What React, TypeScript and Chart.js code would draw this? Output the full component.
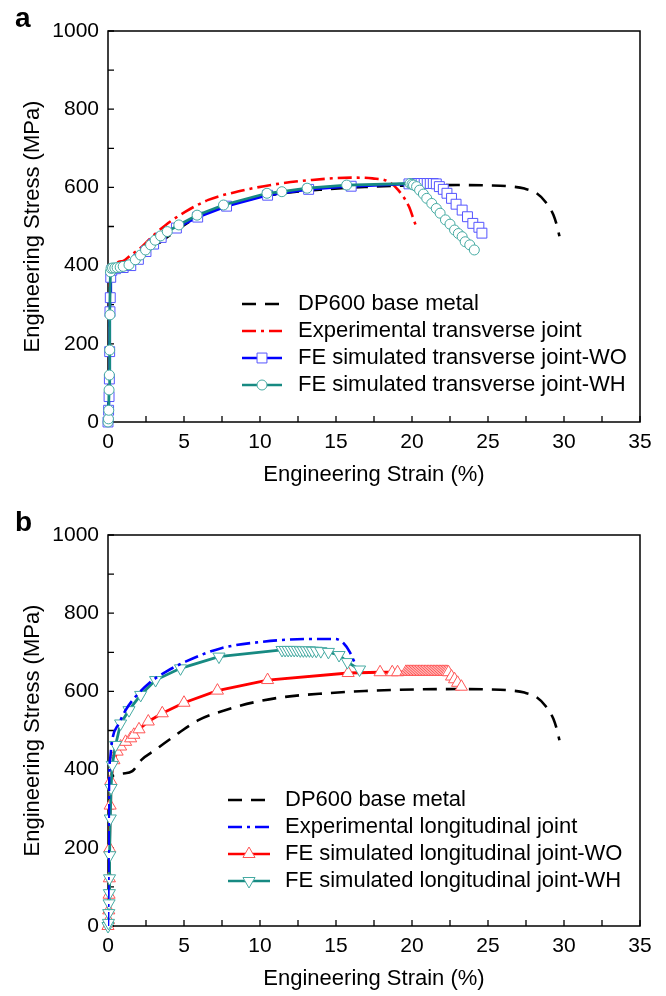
import React, { useEffect, useRef } from "react";
import { Chart, registerables } from "chart.js";

Chart.register(...registerables);

const FONT = "'Liberation Sans', Arial, Helvetica, sans-serif";

// ---- axis tick marks ----
const xTickMarks = [0, 2.5, 5, 7.5, 10, 12.5, 15, 17.5, 20, 22.5, 25, 27.5, 30, 32.5, 35];
const yTickMarks = [0, 100, 200, 300, 400, 500, 600, 700, 800, 900, 1000];

// ---- DP600 base metal (both panels) ----
const baseStrain = [0, 0.03, 0.06, 0.1, 0.15, 0.25, 0.4, 1.0, 1.6, 2.2, 3.1, 4.66, 5.98, 7.7, 9.7, 11.67, 14.3, 16.9, 20.2, 23.0, 25.0, 26.3, 27.4, 28.2, 28.8, 29.3, 29.55, 29.7];
const baseStress = [0, 90, 190, 290, 350, 378, 386, 390, 396, 425, 450, 494, 527, 552, 573, 586, 595, 601, 605, 606, 605, 603, 597, 585, 562, 530, 500, 475];

// ---- panel a: transverse joint ----
const expTransStrain = [0, 0.04, 0.08, 0.12, 0.2, 0.35, 0.72, 1.0, 1.38, 2.25, 2.9, 3.8, 5.1, 6.6, 8.6, 11.0, 13.4, 16.0, 17.4, 18.45, 19.1, 19.8, 20.2, 20.35];
const expTransStress = [0, 120, 250, 340, 385, 398, 410, 412, 423, 449, 474, 504, 538, 568, 590, 608, 619, 625, 623, 615, 593, 551, 508, 495];

const woTransStrain = [0, 0.04, 0.07, 0.09, 0.11, 0.13, 0.15, 0.18, 0.25, 0.5, 1.0, 1.5, 2.0, 2.5, 3.0, 3.5, 4.5, 5.9, 7.8, 10.5, 13.2, 16.0, 19.8, 20.2, 20.4, 20.6, 20.8, 21.0, 21.2, 21.4, 21.6, 21.8, 22.06, 22.3, 22.6, 22.9, 23.3, 23.65, 24.0, 24.4, 24.6];
const woTransStress = [0, 30, 65, 110, 180, 282, 318, 370, 388, 392, 395, 400, 416, 436, 455, 472, 496, 524, 552, 580, 595, 603, 609, 610, 610, 610, 610, 610, 610, 610, 609, 602, 595, 585, 572, 557, 542, 525, 508, 498, 483];

const whTransStrain = [0, 0.03, 0.05, 0.07, 0.09, 0.11, 0.13, 0.16, 0.2, 0.3, 0.45, 0.6, 0.8, 1.0, 1.38, 1.8, 2.14, 2.47, 2.8, 3.1, 3.46, 3.9, 4.66, 5.86, 7.6, 10.46, 11.44, 13.1, 15.7, 19.87, 20.0, 20.1, 20.3, 20.5, 20.75, 20.97, 21.3, 21.6, 21.85, 22.2, 22.5, 22.8, 23.05, 23.3, 23.5, 23.8, 24.1];
const whTransStress = [0, 8, 30, 82, 120, 184, 274, 384, 393, 394, 394, 395, 396, 398, 402, 415, 427, 440, 453, 465, 476, 487, 504, 529, 555, 585, 589, 598, 606, 610, 608, 606, 602, 593, 583, 572, 559, 546, 534, 517, 506, 491, 482, 474, 461, 453, 440];

// ---- panel b: longitudinal joint ----
const expLongStrain = [0, 0.03, 0.05, 0.07, 0.15, 0.28, 0.72, 1.16, 1.8, 2.7, 3.8, 5.1, 7.4, 10.2, 13.0, 14.96, 15.5, 15.9, 16.2];
const expLongStress = [0, 100, 250, 365, 430, 476, 518, 552, 586, 621, 650, 676, 710, 727, 734, 734, 723, 701, 676];

const woLongStrain = [0, 0.03, 0.05, 0.07, 0.09, 0.11, 0.14, 0.18, 0.39, 0.6, 0.83, 1.16, 1.49, 1.7, 2.04, 2.65, 3.57, 5.0, 7.2, 10.5, 15.8, 17.9, 18.7, 19.05, 19.6, 19.7, 19.8, 19.9, 20.0, 20.1, 20.2, 20.3, 20.4, 20.5, 20.6, 20.7, 20.8, 20.9, 21.0, 21.1, 21.2, 21.3, 21.4, 21.5, 21.6, 21.7, 21.8, 21.9, 22.0, 22.1, 22.2, 22.3, 22.4, 22.6, 22.8, 23.0, 23.25];
const woLongStress = [0, 15, 40, 80, 122, 198, 308, 371, 424, 446, 459, 471, 480, 489, 503, 523, 544, 571, 602, 629, 647, 649, 649, 649, 650, 650, 650, 650, 650, 650, 650, 650, 650, 650, 650, 650, 650, 650, 650, 650, 650, 650, 650, 650, 650, 650, 650, 650, 650, 650, 650, 650, 649, 638, 631, 622, 612];

const whLongStrain = [0, 0.03, 0.05, 0.07, 0.09, 0.1, 0.12, 0.15, 0.2, 0.28, 0.5, 0.83, 1.38, 2.15, 3.13, 4.77, 7.3, 11.45, 11.65, 11.85, 12.05, 12.25, 12.45, 12.65, 12.85, 13.05, 13.25, 13.45, 13.7, 14.0, 14.5, 15.2, 15.75, 16.55];
const whLongStress = [0, 8, 33, 58, 84, 122, 181, 275, 353, 412, 463, 518, 552, 591, 629, 659, 689, 706, 706, 706, 706, 706, 706, 705, 705, 705, 705, 704, 704, 703, 701, 693, 675, 656];

// ---- legend labels ----
const legendA = ["DP600 base metal", "Experimental transverse joint", "FE simulated transverse joint-WO", "FE simulated transverse joint-WH"];
const legendB = ["DP600 base metal", "Experimental longitudinal joint", "FE simulated longitudinal joint-WO", "FE simulated longitudinal joint-WH"];

const pts = (xs: number[], ys: number[]) => xs.map((x, i) => ({ x, y: ys[i] }));

const DASH = [14, 9];
const DASHDOT = [14, 5, 3, 5];
const TEAL = "#178a82";
const TEAL_PT = "#45aaa2";

type Item = { label: string; color: string; dash: number[]; style?: string; ptColor?: string; r?: number; rot?: number };

function drawMarker(ctx: CanvasRenderingContext2D, style: string, x: number, y: number, r: number, color: string, rot: number) {
  ctx.save();
  ctx.setLineDash([]);
  ctx.beginPath();
  if (style === "circle") {
    ctx.arc(x, y, r, 0, Math.PI * 2);
  } else if (style === "rect") {
    const s = r * Math.SQRT1_2;
    ctx.rect(x - s, y - s, 2 * s, 2 * s);
  } else {
    let rad = (rot * Math.PI) / 180;
    ctx.moveTo(x + Math.sin(rad) * r, y - Math.cos(rad) * r);
    rad += (2 * Math.PI) / 3;
    ctx.lineTo(x + Math.sin(rad) * r, y - Math.cos(rad) * r);
    rad += (2 * Math.PI) / 3;
    ctx.lineTo(x + Math.sin(rad) * r, y - Math.cos(rad) * r);
    ctx.closePath();
  }
  ctx.fillStyle = "#fff";
  ctx.fill();
  ctx.lineWidth = 1;
  ctx.strokeStyle = color;
  ctx.stroke();
  ctx.restore();
}

type PanelProps = {
  top: number;
  panelLabel: string;
  datasets: any[];
  items: Item[];
  legendPos: { x0: number; x1: number; tx: number; y0: number; dy: number };
};

function Panel({ top, panelLabel, datasets, items, legendPos }: PanelProps) {
  const ref = useRef<HTMLCanvasElement>(null);
  useEffect(() => {
    if (!ref.current) return;
    const frame = {
      id: "frameTicks",
      beforeDatasetsDraw(chart: any) {
        const { ctx, chartArea: a, scales } = chart;
        const xs = scales.x, ys = scales.y;
        ctx.save();
        ctx.strokeStyle = "#000";
        ctx.lineWidth = 1.5;
        ctx.strokeRect(a.left, a.top, a.right - a.left, a.bottom - a.top);
        ctx.lineWidth = 1.3;
        ctx.beginPath();
        xTickMarks.forEach((v) => {
          const p = xs.getPixelForValue(v);
          ctx.moveTo(p, a.bottom);
          ctx.lineTo(p, a.bottom - 6);
        });
        yTickMarks.forEach((v) => {
          const p = ys.getPixelForValue(v);
          ctx.moveTo(a.left, p);
          ctx.lineTo(a.left + 6, p);
        });
        ctx.stroke();
        ctx.restore();
      },
    };
    const legend = {
      id: "customLegend",
      afterDatasetsDraw(chart: any) {
        const ctx: CanvasRenderingContext2D = chart.ctx;
        ctx.save();
        items.forEach((it, i) => {
          const y = legendPos.y0 + i * legendPos.dy;
          ctx.beginPath();
          ctx.setLineDash(it.dash);
          ctx.lineWidth = 2.6;
          ctx.strokeStyle = it.color;
          ctx.moveTo(legendPos.x0, y);
          ctx.lineTo(legendPos.x1, y);
          ctx.stroke();
          ctx.setLineDash([]);
          if (it.style) {
            drawMarker(ctx, it.style, (legendPos.x0 + legendPos.x1) / 2, y, it.r || 5, it.ptColor || it.color, it.rot || 0);
          }
          ctx.fillStyle = "#000";
          ctx.font = `22px ${FONT}`;
          ctx.textBaseline = "middle";
          ctx.textAlign = "left";
          ctx.fillText(it.label, legendPos.tx, y);
        });
        ctx.font = `bold 28px ${FONT}`;
        ctx.textBaseline = "alphabetic";
        ctx.fillText(panelLabel, 15, 27);
        ctx.restore();
      },
    };
    const chart = new Chart(ref.current, {
      type: "line",
      data: { datasets },
      options: {
        animation: false,
        responsive: false,
        events: [],
        layout: { padding: { left: 0, right: 26, top: 31, bottom: 4 } },
        scales: {
          x: {
            type: "linear",
            min: 0,
            max: 35,
            ticks: { stepSize: 5, padding: 8, color: "#000", font: { family: FONT, size: 21 }, maxRotation: 0, autoSkip: false, callback: (v: any) => String(v) },
            grid: { display: false, drawTicks: false },
            border: { display: false },
            title: { display: true, text: "Engineering Strain (%)", color: "#000", font: { family: FONT, size: 22 }, padding: { top: 0, bottom: 0 } },
            afterFit: (s: any) => {
              s.height = 66;
            },
          },
          y: {
            type: "linear",
            min: 0,
            max: 1000,
            ticks: { stepSize: 200, padding: 9, color: "#000", font: { family: FONT, size: 21 }, callback: (v: any) => String(v) },
            grid: { display: false, drawTicks: false },
            border: { display: false },
            title: { display: true, text: "Engineering Stress (MPa)", color: "#000", font: { family: FONT, size: 22 }, padding: { top: 20, bottom: 0 } },
            afterFit: (s: any) => {
              s.width = 108;
            },
          },
        },
        plugins: { legend: { display: false }, tooltip: { enabled: false } },
      } as any,
      plugins: [frame, legend],
    });
    return () => chart.destroy();
  }, []);
  return (
    <div style={{ position: "absolute", left: 0, top, width: 666, height: 492 }}>
      <canvas ref={ref} width={666} height={492} style={{ display: "block" }} />
    </div>
  );
}

const lineDs = (xs: number[], ys: number[], color: string, dash: number[], order: number) => ({
  data: pts(xs, ys),
  borderColor: color,
  borderWidth: 2.6,
  borderDash: dash,
  pointRadius: 0,
  cubicInterpolationMode: "monotone",
  fill: false,
  order,
});

const feDs = (xs: number[], ys: number[], color: string, ptColor: string, style: string, r: number, rot: number, order: number) => ({
  data: pts(xs, ys),
  borderColor: color,
  borderWidth: 2.8,
  pointStyle: style,
  pointRadius: r,
  pointRotation: rot,
  pointBorderColor: ptColor,
  pointBackgroundColor: "#fff",
  pointBorderWidth: 1,
  tension: 0,
  fill: false,
  clip: false,
  order,
});

export default function App() {
  const dsA = [
    feDs(whTransStrain, whTransStress, TEAL, TEAL_PT, "circle", 5, 0, 0),
    feDs(woTransStrain, woTransStress, "#0000ff", "#5555ff", "rect", 7, 0, 1),
    lineDs(expTransStrain, expTransStress, "#ff0000", DASHDOT, 2),
    lineDs(baseStrain, baseStress, "#000", DASH, 3),
  ];
  const dsB = [
    lineDs(expLongStrain, expLongStress, "#0000ff", DASHDOT, 0),
    feDs(whLongStrain, whLongStress, TEAL, TEAL_PT, "triangle", 7, 180, 1),
    feDs(woLongStrain, woLongStress, "#ff0000", "#ff5555", "triangle", 7, 0, 2),
    lineDs(baseStrain, baseStress, "#000", DASH, 3),
  ];
  const itemsA: Item[] = [
    { label: legendA[0], color: "#000", dash: DASH },
    { label: legendA[1], color: "#ff0000", dash: DASHDOT },
    { label: legendA[2], color: "#0000ff", dash: [], style: "rect", ptColor: "#5555ff", r: 7 },
    { label: legendA[3], color: TEAL, dash: [], style: "circle", ptColor: TEAL_PT, r: 5 },
  ];
  const itemsB: Item[] = [
    { label: legendB[0], color: "#000", dash: DASH },
    { label: legendB[1], color: "#0000ff", dash: DASHDOT },
    { label: legendB[2], color: "#ff0000", dash: [], style: "triangle", ptColor: "#ff5555", r: 7, rot: 0 },
    { label: legendB[3], color: TEAL, dash: [], style: "triangle", ptColor: TEAL_PT, r: 7, rot: 180 },
  ];
  return (
    <div style={{ position: "absolute", left: 0, top: 0, width: 666, height: 996, background: "#fff" }}>
      <Panel top={0} panelLabel="a" datasets={dsA} items={itemsA} legendPos={{ x0: 242, x1: 282, tx: 298, y0: 304, dy: 27 }} />
      <Panel top={504} panelLabel="b" datasets={dsB} items={itemsB} legendPos={{ x0: 228, x1: 270, tx: 285, y0: 296, dy: 27 }} />
    </div>
  );
}
